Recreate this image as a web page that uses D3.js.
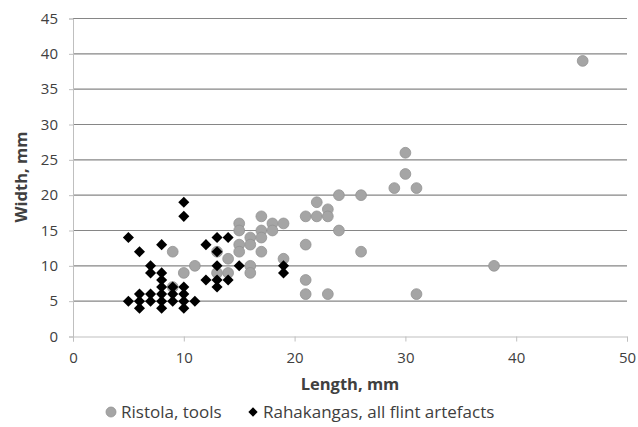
<!DOCTYPE html>
<html><head><meta charset="utf-8">
<script src="https://cdn.jsdelivr.net/npm/d3@7"></script>
<style>body{margin:0;background:#fff}svg{display:block}text{font-family:"Open Sans",sans-serif;fill:#404040}</style>
</head><body><svg id="c" width="638" height="427"></svg>
<script>
const xTicks=[0,10,20,30,40,50];
const yTicks=[0,5,10,15,20,25,30,35,40,45];
const ristolaLen=[46,30,30,29,31,24,26,22,23,21,22,23,17,15,18,19,15,17,18,24,16,17,15,16,21,15,17,26,9,13,14,19,11,16,38,10,13,14,16,9,21,21,23,31];
const ristolaWid=[39,26,23,21,21,20,20,19,18,17,17,17,17,16,16,16,15,15,15,15,14,14,13,13,13,12,12,12,12,12,11,11,10,10,10,9,9,9,9,7,8,6,6,6];
const rahaLen=[10,10,5,13,14,8,12,6,13,7,13,15,19,7,8,19,8,12,13,14,8,9,10,13,6,7,8,9,10,5,6,7,8,9,10,11,6,8,10];
const rahaWid=[19,17,14,14,14,13,13,12,12,10,10,10,10,9,9,9,8,8,8,8,7,7,7,7,6,6,6,6,6,5,5,5,5,5,5,5,4,4,4];
const seriesNames=["Ristola, tools","Rahakangas, all flint artefacts"];

const svg=d3.select("#c");
const x=d3.scaleLinear().domain([0,50]).range([73,627]);
const y=d3.scaleLinear().domain([0,45]).range([336.5,18.5]);

// gridlines
svg.append("g").selectAll("line").data(yTicks.filter(d=>d>0)).join("line")
 .attr("x1",x(0)).attr("x2",x(50)).attr("y1",d=>y(d)).attr("y2",d=>y(d))
 .attr("stroke","#868686").attr("stroke-width",1.2);

// y axis
const ya=svg.append("g").attr("transform",`translate(${x(0)},0)`)
 .call(d3.axisLeft(y).tickValues(yTicks).tickSize(4).tickPadding(11));
ya.select(".domain").attr("stroke","#bfbfbf");
ya.selectAll(".tick line").attr("stroke","#bfbfbf");
ya.selectAll("text").style("font-size","15px").attr("fill","#333");

// x axis
const xa=svg.append("g").attr("transform",`translate(0,${y(0)})`)
 .call(d3.axisBottom(x).tickValues(xTicks).tickSize(5).tickPadding(11));
xa.select(".domain").attr("stroke","#bfbfbf");
xa.selectAll(".tick line").attr("stroke","#bfbfbf");
xa.selectAll("text").style("font-size","15px").attr("fill","#333");

// points
const rData=ristolaLen.map((d,i)=>({x:d,y:ristolaWid[i]}));
const bData=rahaLen.map((d,i)=>({x:d,y:rahaWid[i]}));
svg.append("g").selectAll("circle").data(rData).join("circle")
 .attr("cx",d=>x(d.x)).attr("cy",d=>y(d.y)).attr("r",5.4)
 .attr("fill","#a5a5a5").attr("stroke","#939393").attr("stroke-width",0.8);
const dia=d3.symbol().type(d3.symbolDiamond2).size(78);
svg.append("g").selectAll("path").data(bData).join("path")
 .attr("transform",d=>`translate(${x(d.x)},${y(d.y)})`).attr("d",dia).attr("fill","#000");

// axis titles
svg.append("text").attr("x",350).attr("y",390).attr("text-anchor","middle")
 .style("font-size","16.5px").style("font-weight","bold").attr("fill","#333").text("Length, mm");
svg.append("text").attr("transform","translate(27,177) rotate(-90)").attr("text-anchor","middle")
 .style("font-size","16.5px").style("font-weight","bold").attr("fill","#333").text("Width, mm");

// legend
svg.append("circle").attr("cx",111).attr("cy",412).attr("r",5).attr("fill","#a5a5a5").attr("stroke","#939393").attr("stroke-width",0.8);
svg.append("text").attr("x",121).attr("y",418).style("font-size","17px").attr("fill","#333").text(seriesNames[0]);
svg.append("path").attr("transform","translate(253,412)").attr("d",d3.symbol().type(d3.symbolDiamond2).size(55)).attr("fill","#000");
svg.append("text").attr("x",263).attr("y",418).style("font-size","17px").attr("fill","#333").text(seriesNames[1]);
</script></body></html>
